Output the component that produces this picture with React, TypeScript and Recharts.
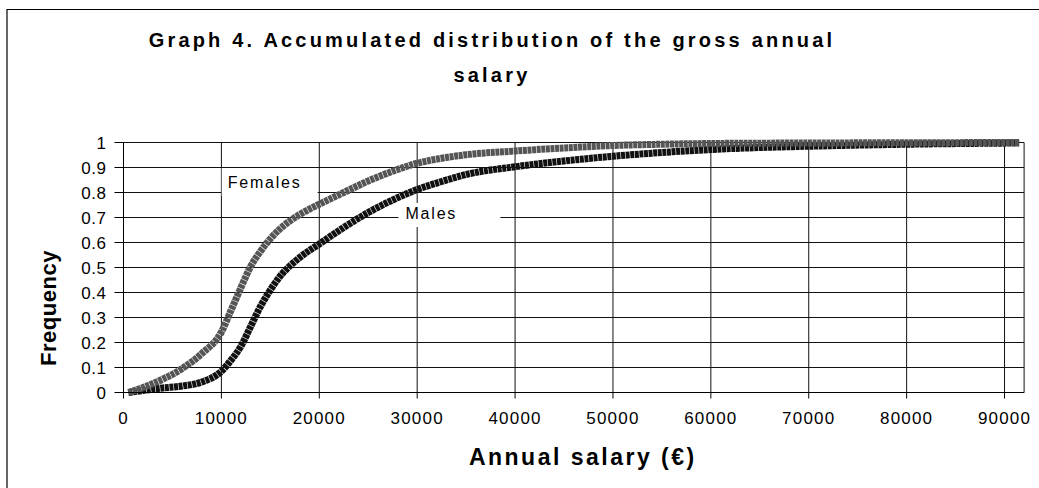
import { LineChart, Line, XAxis, YAxis, CartesianGrid, ReferenceArea } from 'recharts';

const salary = [500, 2000, 4000, 6000, 8000, 10000, 11000, 12000, 13000, 14000, 15000, 16000, 18000, 20000, 22500, 25000, 27500, 30000, 32500, 35000, 40000, 45000, 50000, 55000, 60000, 70000, 80000, 91500];
const femalesFreq = [0, 0.02, 0.053, 0.096, 0.156, 0.242, 0.33, 0.42, 0.505, 0.565, 0.615, 0.655, 0.712, 0.753, 0.8, 0.846, 0.885, 0.917, 0.937, 0.951, 0.966, 0.978, 0.988, 0.993, 0.996, 0.998, 0.999, 1];
const malesFreq = [0, 0.008, 0.018, 0.026, 0.042, 0.085, 0.13, 0.185, 0.265, 0.345, 0.41, 0.465, 0.54, 0.594, 0.66, 0.72, 0.77, 0.812, 0.844, 0.872, 0.903, 0.926, 0.945, 0.96, 0.972, 0.985, 0.993, 0.998];

const xTicks = [0, 10000, 20000, 30000, 40000, 50000, 60000, 70000, 80000, 90000];
const yTicks = [0, 0.1, 0.2, 0.3, 0.4, 0.5, 0.6, 0.7, 0.8, 0.9, 1];

const FONT = '"Liberation Sans", Arial, sans-serif';

const data = salary.map((s, i) => ({ salary: s, females: femalesFreq[i], males: malesFreq[i] }));

const boxLabel = (text: string, dx: number, dy: number) => (props: any) => {
  const { x, y } = props.viewBox;
  return (
    <text x={x + dx} y={y + dy} fontFamily={FONT} fontSize={16} letterSpacing={1.8} fill="#000">
      {text}
    </text>
  );
};

const XTitle = (props: any) => {
  const { x, y, width } = props.viewBox;
  return (
    <text x={x + width / 2 + 9} y={y + 72} textAnchor="middle" fontFamily={FONT} fontSize={23} fontWeight="bold" letterSpacing={2.5} fill="#000">
      Annual salary (€)
    </text>
  );
};

const YTitle = () => (
  <text x={56} y={308} textAnchor="middle" transform="rotate(-90, 56, 308)" fontFamily={FONT} fontSize={22} fontWeight="bold" letterSpacing={0.5} fill="#000">
    Frequency
  </text>
);

export default function App() {
  return (
    <div style={{ position: 'fixed', left: 0, top: 0, width: 1039, height: 488, background: '#fff', overflow: 'hidden' }}>
      <LineChart width={1039} height={488} data={data} margin={{ top: 142.5, right: 14.9, bottom: 65.5, left: 63.5 }}>
        <CartesianGrid stroke="#111" strokeWidth={1} />
        <XAxis
          type="number"
          dataKey="salary"
          domain={[0, 92000]}
          ticks={xTicks}
          interval={0}
          height={30}
          tickSize={6}
          tickMargin={13}
          stroke="#000"
          tick={{ fill: '#000', fontSize: 17, fontFamily: FONT, letterSpacing: 1.2 }}
          label={<XTitle />}
        />
        <YAxis
          type="number"
          domain={[0, 1]}
          ticks={yTicks}
          interval={0}
          width={60}
          tickSize={9}
          tickMargin={8}
          stroke="#000"
          tick={{ fill: '#000', fontSize: 17, fontFamily: FONT, letterSpacing: 0.5 }}
          label={<YTitle />}
        />
        <ReferenceArea x1={10030} x2={19830} y1={0.786} y2={0.897} fill="#fff" fillOpacity={1} stroke="none" ifOverflow="visible" label={boxLabel('Females', 6, 19.5)} />
        <ReferenceArea x1={28090} x2={38500} y1={0.662} y2={0.758} fill="#fff" fillOpacity={1} stroke="none" ifOverflow="visible" label={boxLabel('Males', 7, 15.5)} />
        <Line type="monotone" dataKey="males" stroke="#111" strokeWidth={7} strokeDasharray="4 0.6" dot={false} activeDot={false} isAnimationActive={false} />
        <Line type="monotone" dataKey="females" stroke="#555" strokeWidth={7} strokeDasharray="4 0.6" dot={false} activeDot={false} isAnimationActive={false} />
      </LineChart>
      <svg width={1039} height={488} style={{ position: 'absolute', left: 0, top: 0, pointerEvents: 'none' }}>
        <line x1={7} y1={9.5} x2={7} y2={488} stroke="#000" strokeWidth={1.2} />
        <line x1={6.5} y1={9.5} x2={1039} y2={9.5} stroke="#000" strokeWidth={1} />
        <text x={492} y={47.3} textAnchor="middle" fontFamily={FONT} fontSize={20} fontWeight="bold" letterSpacing={3.2} fill="#000">
          Graph 4. Accumulated distribution of the gross annual
        </text>
        <text x={492} y={81.7} textAnchor="middle" fontFamily={FONT} fontSize={20} fontWeight="bold" letterSpacing={3.2} fill="#000">
          salary
        </text>
      </svg>
    </div>
  );
}
